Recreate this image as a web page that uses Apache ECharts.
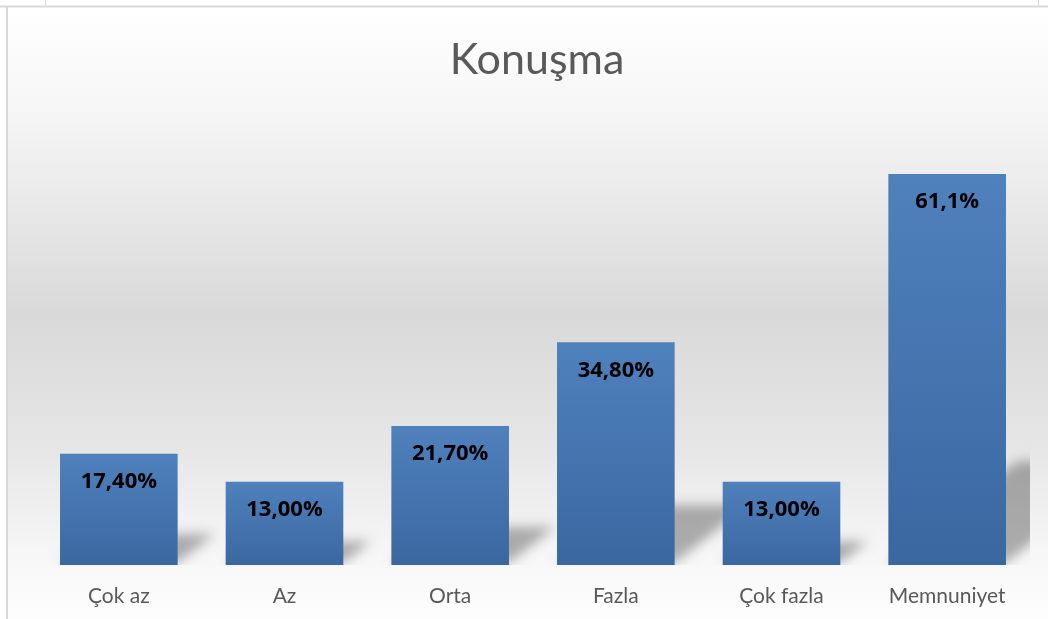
<!DOCTYPE html>
<html>
<head>
<meta charset="utf-8">
<script src="https://cdn.jsdelivr.net/npm/echarts@6/dist/echarts.min.js"></script>
<style>
  html, body { margin: 0; padding: 0; background: #fff; }
  #chart { width: 1048px; height: 619px; }
</style>
</head>
<body>
<div id="chart"></div>
<script>
// veriler
const categories = ["Çok az", "Az", "Orta", "Fazla", "Çok fazla", "Memnuniyet"];
const values = [17.4, 13.0, 21.7, 34.8, 13.0, 61.1];
const labels = ["17,40%", "13,00%", "21,70%", "34,80%", "13,00%", "61,1%"];

const chart = echarts.init(document.getElementById("chart"));

// bar'ın sağ arkasına düşen perspektif gölge (sadece bulanık gölgesi görünsün diye şekil kaydırılıyor)
const OFF = 3000;
function renderShadow(params, api) {
  const base = api.coord([api.value(0), 0]);
  const top = api.coord([api.value(0), api.value(1)]);
  const bw = api.size([1, 0])[0] * 0.71;
  const h = base[1] - top[1];
  const xl = base[0] - bw / 2;
  const xr = base[0] + bw / 2;
  const dx = h * 0.33;
  const dy = h * 0.26;
  const y0 = base[1] - 2;
  return {
    type: "polygon",
    shape: {
      points: [[xl - OFF, y0], [xr - OFF, y0], [xr + dx - OFF, y0 - dy], [xl + dx - OFF, y0 - dy]]
    },
    style: {
      fill: "#000",
      shadowBlur: 12,
      shadowOffsetX: OFF,
      shadowColor: "rgba(0,0,0,0.3)"
    }
  };
}

chart.setOption({
  animation: false,
  graphic: [
    // arka plan
    {
      type: "rect", z: -10, silent: true,
      shape: { x: 7, y: 7, width: 1041, height: 612 },
      style: {
        fill: new echarts.graphic.LinearGradient(0, 0, 0, 1, [
          { offset: 0, color: "#ffffff" },
          { offset: 0.17, color: "#f6f6f6" },
          { offset: 0.5, color: "#d9d9d9" },
          { offset: 0.72, color: "#e6e6e6" },
          { offset: 0.9, color: "#f7f7f7" },
          { offset: 1, color: "#fdfdfd" }
        ])
      }
    },
    { type: "line", z: -5, silent: true, shape: { x1: 0, y1: 6.5, x2: 1048, y2: 6.5 }, style: { stroke: "#d9d9d9", lineWidth: 2 } },
    { type: "line", z: -5, silent: true, shape: { x1: 7, y1: 6, x2: 7, y2: 619 }, style: { stroke: "#d9d9d9", lineWidth: 2 } },
    { type: "line", z: -5, silent: true, shape: { x1: 45.5, y1: 0, x2: 45.5, y2: 6 }, style: { stroke: "#d9d9d9", lineWidth: 1 } },
    { type: "line", z: -5, silent: true, shape: { x1: 1038.5, y1: 0, x2: 1038.5, y2: 6 }, style: { stroke: "#d9d9d9", lineWidth: 1 } }
  ],
  title: {
    text: "Konuşma",
    left: 532,
    textAlign: "center",
    top: 34,
    textStyle: { fontFamily: "Lato", fontWeight: "normal", fontSize: 43, color: "#595959" }
  },
  grid: { left: 36, right: 18, top: 117, bottom: 54 },
  xAxis: {
    type: "category",
    data: categories,
    axisLine: { show: false },
    axisTick: { show: false },
    axisLabel: { fontFamily: "Lato", fontSize: 21, color: "#595959", margin: 21 }
  },
  yAxis: {
    type: "value",
    min: 0,
    max: 70,
    show: false,
    splitLine: { show: false }
  },
  series: [
    {
      type: "custom",
      renderItem: renderShadow,
      data: values.map((v, i) => [i, v]),
      clip: true,
      z: 1,
      silent: true
    },
    {
      type: "bar",
      data: values,
      barWidth: "71%",
      z: 2,
      itemStyle: {
        color: new echarts.graphic.LinearGradient(0, 0, 0, 1, [
          { offset: 0, color: "#4f81bd" },
          { offset: 1, color: "#3b67a0" }
        ])
      },
      label: {
        show: true,
        position: "insideTop",
        distance: 17,
        formatter: p => labels[p.dataIndex],
        fontFamily: "Open Sans",
        fontWeight: "bold",
        fontSize: 22,
        color: "#000"
      }
    }
  ]
});
</script>
</body>
</html>
